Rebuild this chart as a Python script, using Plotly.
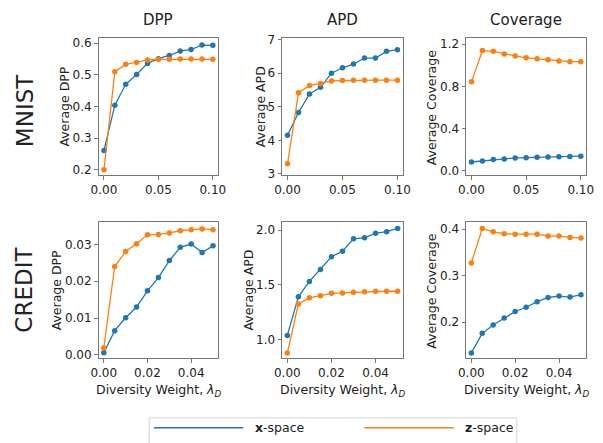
import plotly.graph_objects as go
from plotly.subplots import make_subplots

# ---------------- data ----------------
lam_mnist = [0.00, 0.01, 0.02, 0.03, 0.04, 0.05, 0.06, 0.07, 0.08, 0.09, 0.10]
lam_credit = [0.000, 0.005, 0.010, 0.015, 0.020, 0.025, 0.030, 0.035, 0.040, 0.045, 0.050]

mnist_dpp_x = [0.261, 0.404, 0.470, 0.501, 0.536, 0.551, 0.561, 0.575, 0.580, 0.594, 0.593]
mnist_dpp_z = [0.200, 0.510, 0.533, 0.539, 0.547, 0.549, 0.549, 0.550, 0.550, 0.550, 0.549]

mnist_apd_x = [4.15, 4.83, 5.38, 5.58, 6.00, 6.16, 6.27, 6.45, 6.45, 6.65, 6.70]
mnist_apd_z = [3.30, 5.42, 5.63, 5.69, 5.77, 5.78, 5.79, 5.79, 5.79, 5.79, 5.79]

mnist_cov_x = [0.083, 0.093, 0.106, 0.112, 0.122, 0.124, 0.127, 0.131, 0.132, 0.136, 0.138]
mnist_cov_z = [0.843, 1.141, 1.132, 1.108, 1.089, 1.071, 1.062, 1.052, 1.040, 1.034, 1.034]

credit_dpp_x = [0.0006, 0.0066, 0.0101, 0.0130, 0.0174, 0.0210, 0.0256, 0.0292, 0.0301, 0.0278, 0.0296]
credit_dpp_z = [0.0019, 0.0240, 0.0281, 0.0302, 0.0326, 0.0327, 0.0331, 0.0337, 0.0340, 0.0342, 0.0340]

credit_apd_x = [1.036, 1.389, 1.530, 1.640, 1.756, 1.806, 1.920, 1.930, 1.970, 1.985, 2.015]
credit_apd_z = [0.875, 1.323, 1.380, 1.398, 1.421, 1.425, 1.430, 1.435, 1.440, 1.440, 1.440]

credit_cov_x = [0.134, 0.176, 0.194, 0.209, 0.223, 0.232, 0.244, 0.253, 0.256, 0.254, 0.259]
credit_cov_z = [0.327, 0.401, 0.394, 0.390, 0.389, 0.389, 0.389, 0.385, 0.385, 0.382, 0.381]

col_titles = ["DPP", "APD", "Coverage"]
row_titles = ["MNIST", "CREDIT"]
y_titles = ["Average DPP", "Average APD", "Average Coverage"]
x_title = "Diversity Weight, <i>λ</i><sub><i>D</i></sub>"
series_names = ["<b>x</b>-space", "<b>z</b>-space"]

mnist_xticks = [0.00, 0.05, 0.10]
credit_xticks = [0.00, 0.02, 0.04]
ytick_sets = [
    [[0.2, 0.3, 0.4, 0.5, 0.6], [3, 4, 5, 6, 7], [0.0, 0.4, 0.8, 1.2]],
    [[0.00, 0.01, 0.02, 0.03], [1.0, 1.5, 2.0], [0.2, 0.3, 0.4]],
]
ytick_fmt = [[".1f", "d", ".1f"], [".2f", ".1f", ".1f"]]

# ---------------- layout helpers ----------------
W, H = 603, 443
BLUE, ORANGE = "#1f77b4", "#ff7f0e"
FONT = "DejaVu Sans"
TXT = "#222222"
SPINE = "#777777"

def px(x):
    return x / W

def py(y):
    return 1 - y / H

col_dom = [(93, 216), (281.5, 405.7), (470.5, 594)]
row_dom = [(33.3, 174), (222.3, 362.3)]

x_ranges = [[-0.005, 0.105], [-0.0024, 0.0524]]
y_ranges = [
    [[0.1825, 0.615], [2.96, 7.035], [-0.043, 1.255]],
    [[-0.00095, 0.036], [0.825, 2.071], [0.122, 0.4146]],
]

data = [
    [(lam_mnist, mnist_dpp_x, mnist_dpp_z), (lam_mnist, mnist_apd_x, mnist_apd_z),
     (lam_mnist, mnist_cov_x, mnist_cov_z)],
    [(lam_credit, credit_dpp_x, credit_dpp_z), (lam_credit, credit_apd_x, credit_apd_z),
     (lam_credit, credit_cov_x, credit_cov_z)],
]

fig = make_subplots(rows=2, cols=3)

for r in range(2):
    for c in range(3):
        lam, xs, zs = data[r][c]
        for vals, color, name in ((xs, BLUE, series_names[0]), (zs, ORANGE, series_names[1])):
            fig.add_trace(
                go.Scatter(x=lam, y=vals, mode="lines+markers", name=name,
                           line=dict(color=color, width=1.3),
                           marker=dict(color=color, size=5.5),
                           showlegend=False),
                row=r + 1, col=c + 1)
        xt = mnist_xticks if r == 0 else credit_xticks
        fig.update_xaxes(
            domain=[px(col_dom[c][0]), px(col_dom[c][1])],
            range=x_ranges[r], tickvals=xt, tickformat=".2f",
            showgrid=False, zeroline=False, showline=True, mirror=True,
            linecolor=SPINE, linewidth=1, ticks="outside", ticklen=3.5,
            tickwidth=1, tickcolor=SPINE,
            tickfont=dict(family=FONT, size=12, color=TXT),
            row=r + 1, col=c + 1)
        fig.update_yaxes(
            domain=[py(row_dom[r][1]), py(row_dom[r][0])],
            range=y_ranges[r][c], tickvals=ytick_sets[r][c], tickformat=ytick_fmt[r][c],
            showgrid=False, zeroline=False, showline=True, mirror=True,
            linecolor=SPINE, linewidth=1, ticks="outside", ticklen=3.5,
            tickwidth=1, tickcolor=SPINE,
            tickfont=dict(family=FONT, size=12, color=TXT),
            row=r + 1, col=c + 1)

annotations = []

def ann(text, x, y, size, angle=0, xanchor="center", yanchor="middle"):
    annotations.append(dict(text=text, x=px(x), y=py(y), xref="paper", yref="paper",
                            showarrow=False, textangle=angle, xanchor=xanchor,
                            yanchor=yanchor, font=dict(family=FONT, size=size, color=TXT)))

# column titles
for c, t in enumerate(col_titles):
    ann(t, (col_dom[c][0] + col_dom[c][1]) / 2, 14.5, 15)
# row titles
ann(row_titles[0], 17, 107.5, 23, angle=-90)
ann(row_titles[1], 17, 292, 23, angle=-90)
# y titles
ytitle_x = [[58.3, 259.3, 435], [49.3, 246.7, 435]]
for r in range(2):
    for c in range(3):
        ann(y_titles[c], ytitle_x[r][c], (row_dom[r][0] + row_dom[r][1]) / 2, 12.5, angle=-90)
# x titles
for c in range(3):
    ann(x_title, (col_dom[c][0] + col_dom[c][1]) / 2, 395, 12.5)

# manual legend
shapes = [
    dict(type="rect", xref="paper", yref="paper", x0=px(145), x1=px(522.7),
         y0=py(460), y1=py(423.3), line=dict(color="#d5d5d5", width=1), fillcolor="white"),
    dict(type="line", xref="paper", yref="paper", x0=px(150), x1=px(241.7),
         y0=py(433.5), y1=py(433.5), line=dict(color=BLUE, width=1.3)),
    dict(type="line", xref="paper", yref="paper", x0=px(366), x1=px(458),
         y0=py(433.5), y1=py(433.5), line=dict(color=ORANGE, width=1.3)),
]
ann(series_names[0], 251.5, 433.5, 12.5, xanchor="left")
ann(series_names[1], 467.5, 433.5, 12.5, xanchor="left")

fig.update_layout(
    width=W, height=H, margin=dict(l=0, r=0, t=0, b=0),
    paper_bgcolor="white", plot_bgcolor="white",
    annotations=annotations, shapes=shapes, showlegend=False,
    font=dict(family=FONT, color=TXT),
)

fig.write_html(
    "out.html",
    config={"displayModeBar": False},
    post_script="document.body.style.margin='0';document.body.style.padding='0';"
                "document.body.style.overflow='hidden';",
)
